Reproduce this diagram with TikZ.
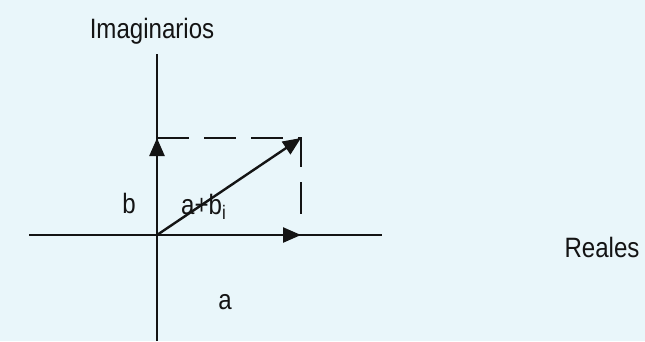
\documentclass[tikz,border=0pt]{standalone}
\usepackage{fontspec}
\setmainfont{Liberation Sans}[FakeStretch=0.86]
\usetikzlibrary{arrows.meta}
\definecolor{bgc}{RGB}{233,246,250}
\definecolor{ink}{RGB}{20,20,20}
\tikzset{
  axisline/.style={draw=ink, line width=2.4pt},
  vecline/.style={draw=ink, line width=2.4pt, -{Triangle[length=18pt,width=15pt]}},
  dashline/.style={draw=ink, line width=2.2pt, dash pattern=on 32pt off 15pt},
  lbl/.style={inner sep=0pt, text=ink, font=\fontsize{28}{32}\selectfont, anchor=base}
}
\begin{document}
\begin{tikzpicture}[x=1pt,y=-1pt]
\fill[bgc] (0,0) rectangle (645,341);
\useasboundingbox (0,0) rectangle (645,341);
\coordinate (O) at (157,235);
\coordinate (Xl) at (29,235);
\coordinate (Xr) at (382,235);
\coordinate (Yt) at (157,54);
\coordinate (Yb) at (157,341);
\coordinate (A) at (301,235);
\coordinate (B) at (157,138);
\coordinate (P) at (301,138);
\coordinate (Pd) at (301,220);
\draw[axisline] (Xl) -- (Xr);
\draw[axisline] (Yb) -- (Yt);
\draw[vecline] (O) -- (A);
\draw[vecline] (O) -- (B);
\draw[dashline] (B) -- (P) -- (Pd);
\draw[vecline] (O) -- (P);
\node[lbl] (im) at (152,38) {Imaginarios};
\node[lbl] (re) at (602,257) {Reales};
\node[lbl] (lb) at (129,213) {b};
\node[lbl] (la) at (225,309) {a};
\node[lbl, anchor=base west] (lab) at (181,214) {a+b\textsubscript{i}};
\end{tikzpicture}
\end{document}
